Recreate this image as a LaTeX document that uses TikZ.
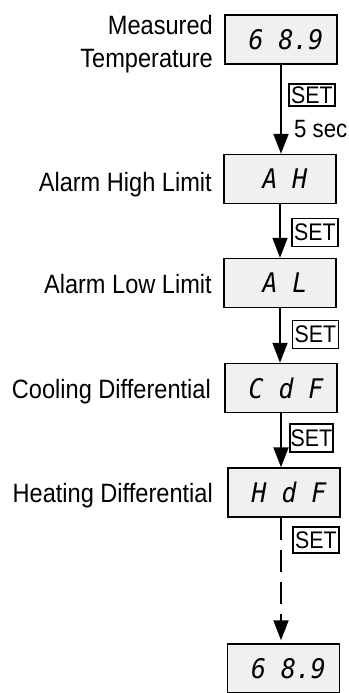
\documentclass[tikz,border=0pt]{standalone}
\usepackage{fontspec}
\setmainfont{Liberation Sans}[FakeStretch=0.89]
\newfontfamily\segfont{DejaVu Sans Mono}[FakeStretch=0.92]
\usetikzlibrary{arrows.meta}

\tikzset{
  display/.style={draw=black, line width=1.5pt, fill=black!6, minimum width=112pt, minimum height=49pt, inner sep=0pt,
    font=\segfont\itshape\fontsize{27}{27}\selectfont, execute at begin node=\hspace*{10pt}},
  setkey/.style={draw=black, line width=1.2pt, minimum width=46pt, minimum height=28pt, inner sep=0pt,
    font=\fontsize{24}{24}\selectfont},
  caption/.style={inner sep=0pt, font=\fontsize{26.5}{33}\selectfont},
  flow/.style={line width=2pt, -{Triangle[length=20pt,width=15pt]}},
}

\begin{document}
\begin{tikzpicture}[x=1pt,y=-1pt]
  \useasboundingbox (0,0) rectangle (348,693);

  % displays
  \node[display] (temp)  at (281,39.5)  {6 8.9};
  \node[display] (high)  at (280,179)   {A H};
  \node[display] (low)   at (280,283)   {A L};
  \node[display] (cool)  at (281,388)   {C d F};
  \node[display] (heat)  at (284,492.5) {H d F};
  \node[display] (back)  at (283.5,668.5) {6 8.9};

  % captions
  \node[caption, anchor=east, align=right] (tempcap) at (213,44.5) {Measured\\Temperature};
  \node[caption, anchor=base east] (highcap) at (212,191) {Alarm High Limit};
  \node[caption, anchor=base east] (lowcap)  at (212,293) {Alarm Low Limit};
  \node[caption, anchor=base east] (coolcap) at (211,398) {Cooling Differential};
  \node[caption, anchor=base east] (heatcap) at (213,502) {Heating Differential};

  % key presses
  \node[setkey, minimum height=22pt] (set1) at (312,95) {SET};
  \node[setkey] (set2) at (315,232.5) {SET};
  \node[setkey] (set3) at (315.5,334.5) {SET};
  \node[setkey, minimum width=43pt] (set4) at (311.5,438) {SET};
  \node[setkey, minimum height=26pt] (set5) at (316,540) {SET};
  \node[inner sep=0pt, anchor=base west, font=\fontsize{25}{25}\selectfont] (delay) at (294,137) {5 sec};

  % connectors
  \draw[flow] (temp.south) -- (temp.south |- high.north);
  \draw[flow] (high.south) -- (high.south |- low.north);
  \draw[flow] (low.south) -- (low.south |- cool.north);
  \draw[flow] (cool.south) -- (cool.south |- heat.north);
  \draw[flow, dash pattern=on 22pt off 10pt, shorten >=3pt] (cool.south |- heat.south) -- (cool.south |- back.north);
\end{tikzpicture}
\end{document}
